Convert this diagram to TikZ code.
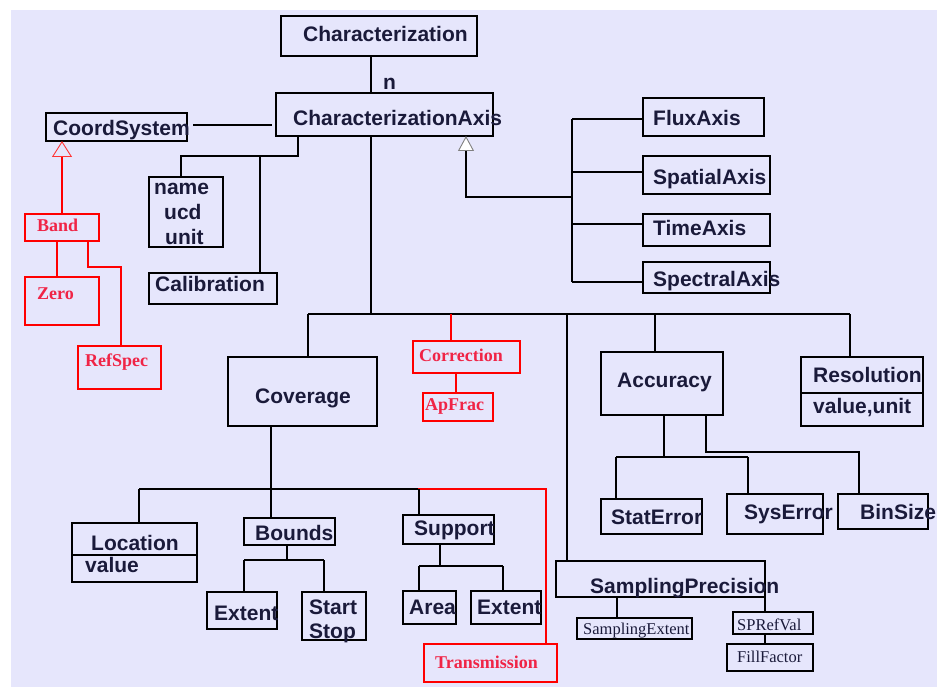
\documentclass[tikz,border=0pt]{standalone}
\usepackage{fontspec}
\setmainfont{Liberation Sans}
\newfontfamily\serifb{Liberation Serif}
\usetikzlibrary{arrows.meta}
\definecolor{lav}{RGB}{230,230,252}
\definecolor{txt}{RGB}{26,26,58}
\definecolor{rtxt}{RGB}{240,36,70}
\definecolor{rline}{RGB}{255,0,0}
\tikzset{
  boxst/.style={draw=black,line width=2.2pt,inner sep=0pt,outer sep=0pt,rectangle},
  redbox/.style={draw=rline,line width=2.2pt,inner sep=0pt,outer sep=0pt,rectangle},
  conn/.style={draw=black,line width=2.2pt},
  rconn/.style={draw=rline,line width=2.2pt},
  lbl/.style={font=\fontsize{21}{24}\selectfont\bfseries,text=txt,inner sep=0pt,anchor=west,text height=15pt,text depth=0pt},
  rlbl/.style={font=\fontsize{18}{20}\serifb\bfseries,text=rtxt,inner sep=0pt,anchor=west,text height=12pt,text depth=0pt},
  slbl/.style={font=\fontsize{16.5}{18}\serifb,text=txt,inner sep=0pt,anchor=west,text height=11pt,text depth=0pt}
}
\newcommand\mkbox[6]{\node[#1,minimum width={(#5-#3)*1pt},minimum height={(#6-#4)*1pt}] (#2) at ({(#3+#5)/2},{(#4+#6)/2}) {};}
\begin{document}
\begin{tikzpicture}[x=1pt,y=-1pt]
\useasboundingbox (0,0) rectangle (937,687);
\fill[lav] (11,10) rectangle (937,687);
% boxes
\mkbox{boxst}{char}{281}{16}{477}{56}
\mkbox{boxst}{ca}{276}{93}{493}{136}
\mkbox{boxst}{cs}{46}{113}{187}{141}
\mkbox{redbox}{band}{25}{214}{99}{241}
\mkbox{redbox}{zero}{25}{277}{99}{325}
\mkbox{redbox}{refspec}{78}{346}{161}{389}
\mkbox{boxst}{nuu}{149}{177}{223}{247}
\mkbox{boxst}{calib}{149}{273}{277}{304}
\mkbox{boxst}{flux}{643}{98}{764}{136}
\mkbox{boxst}{spatial}{643}{156}{770}{194}
\mkbox{boxst}{time}{643}{214}{770}{246}
\mkbox{boxst}{spectral}{643}{262}{770}{293}
\mkbox{boxst}{cov}{228}{357}{377}{426}
\mkbox{redbox}{corr}{413}{341}{520}{373}
\mkbox{redbox}{apfrac}{423}{393}{493}{421}
\mkbox{boxst}{acc}{601}{352}{723}{415}
\mkbox{boxst}{res}{801}{357}{923}{426}
\mkbox{boxst}{stat}{601}{499}{702}{534}
\mkbox{boxst}{sys}{727}{494}{823}{534}
\mkbox{boxst}{bin}{838}{494}{928}{529}
\mkbox{boxst}{loc}{72}{523}{197}{582}
\mkbox{boxst}{bounds}{244}{518}{335}{545}
\mkbox{boxst}{extb}{207}{592}{277}{629}
\mkbox{boxst}{ss}{302}{592}{366}{640}
\mkbox{boxst}{supp}{403}{515}{494}{544}
\mkbox{boxst}{area}{403}{591}{456}{624}
\mkbox{boxst}{exts}{471}{591}{541}{624}
\mkbox{redbox}{trans}{424}{644}{557}{682}
\mkbox{boxst}{sp}{556}{561}{765}{597}
\mkbox{boxst}{se}{577}{618}{692}{639}
\mkbox{boxst}{spref}{733}{612}{813}{634}
\mkbox{boxst}{fill}{727}{644}{813}{671}
% dividers
\draw[conn] (res.west |- 0,393) -- (res.east |- 0,393);
\draw[conn] (loc.west |- 0,555) -- (loc.east |- 0,555);
% texts
\node[lbl] (tchar) at (303,34) {Characterization};
\node[lbl,text height=11pt] (tn) at (383,84) {n};
\node[lbl] (tca) at (293,118) {CharacterizationAxis};
\node[lbl] (tcs) at (53,128) {CoordSystem};
\node[rlbl] (tband) at (37,226) {Band};
\node[rlbl] (tzero) at (37,293) {Zero};
\node[rlbl] (trefspec) at (85,360) {RefSpec};
\node[lbl] (tname) at (154,187) {name};
\node[lbl] (tucd) at (164,212) {ucd};
\node[lbl] (tunit) at (165,237) {unit};
\node[lbl] (tcalib) at (155,284) {Calibration};
\node[lbl] (tflux) at (653,118) {FluxAxis};
\node[lbl] (tspatial) at (653,177) {SpatialAxis};
\node[lbl] (ttime) at (653,228) {TimeAxis};
\node[lbl] (tspectral) at (653,279) {SpectralAxis};
\node[lbl] (tcov) at (255,396) {Coverage};
\node[rlbl] (tcorr) at (419,355) {Correction};
\node[rlbl] (tapfrac) at (425,404) {ApFrac};
\node[lbl] (tacc) at (617,380) {Accuracy};
\node[lbl] (tres) at (813,375) {Resolution};
\node[lbl] (tvu) at (813,406) {value,unit};
\node[lbl] (tstat) at (611,517) {StatError};
\node[lbl] (tsys) at (744,512) {SysError};
\node[lbl] (tbin) at (860,512) {BinSize};
\node[lbl] (tloc) at (91,543) {Location};
\node[lbl] (tval) at (85,565) {value};
\node[lbl] (tbounds) at (255,533) {Bounds};
\node[lbl] (textb) at (214,613) {Extent};
\node[lbl] (tstart) at (309,607) {Start};
\node[lbl] (tstop) at (309,631) {Stop};
\node[lbl] (tsupp) at (414,528) {Support};
\node[lbl] (tarea) at (409,607) {Area};
\node[lbl] (texts) at (477,607) {Extent};
\node[rlbl] (ttrans) at (435,662) {Transmission};
\node[lbl] (tsp) at (590,586) {SamplingPrecision};
\node[slbl] (tse) at (583,629) {SamplingExtent};
\node[slbl] (tspref) at (737,625) {SPRefVal};
\node[slbl] (tfill) at (737,657) {FillFactor};
% junction coordinates
\coordinate (csl) at (193,125);
\coordinate (car) at (272,125);
% connectors
\draw[conn] (371,0 |- char.south) -- (371,0 |- ca.north);
\draw[conn] (csl) -- (car);
\draw[rconn,-{Triangle[open,width=20pt,length=16pt,line width=0.9pt,color=rline!80]}] (62,0 |- band.north) -- (62,0 |- cs.south);
\draw[rconn] (57,0 |- band.south) -- (57,0 |- zero.north);
\draw[rconn] (88,0 |- band.south) -- (88,267) -- (121,267) -- (121,0 |- refspec.north);
\draw[conn] (298,0 |- ca.south) -- (298,156) -- (181,156) -- (181,0 |- nuu.north);
\draw[conn] (260,156) -- (260,0 |- calib.north);
% axis subclasses
\draw[conn] (572,119) -- (572,282);
\draw[conn] (572,119) -- (flux.west |- 0,119);
\draw[conn] (572,172) -- (spatial.west |- 0,172);
\draw[conn] (572,224) -- (time.west |- 0,224);
\draw[conn] (572,282) -- (spectral.west |- 0,282);
\draw[conn,-{Triangle[width=16pt,length=15pt,line width=0.9pt,color=gray,fill=white]}] (572,197) -- (466,197) -- (466,0 |- ca.south);
% main trunk
\draw[conn] (371,0 |- ca.south) -- (371,314);
\draw[conn] (308,314) -- (850,314);
\draw[conn] (308,314) -- (308,0 |- cov.north);
\draw[rconn] (451,314) -- (451,0 |- corr.north);
\draw[conn] (567,314) -- (567,0 |- sp.north);
\draw[conn] (655,314) -- (655,0 |- acc.north);
\draw[conn] (850,314) -- (850,0 |- res.north);
\draw[rconn] (456,0 |- corr.south) -- (456,0 |- apfrac.north);
% coverage
\draw[conn] (271,0 |- cov.south) -- (271,0 |- bounds.north);
\draw[conn] (139,489) -- (418,489);
\draw[rconn] (418,489) -- (546,489) -- (546,0 |- trans.north);
\draw[conn] (139,489) -- (139,0 |- loc.north);
\draw[conn] (419,489) -- (419,0 |- supp.north);
\draw[conn] (287,0 |- bounds.south) -- (287,560);
\draw[conn] (244,560) -- (324,560);
\draw[conn] (244,560) -- (244,0 |- extb.north);
\draw[conn] (324,560) -- (324,0 |- ss.north);
\draw[conn] (440,0 |- supp.south) -- (440,566);
\draw[conn] (419,566) -- (503,566);
\draw[conn] (419,566) -- (419,0 |- area.north);
\draw[conn] (503,566) -- (503,0 |- exts.north);
% accuracy
\draw[conn] (664,0 |- acc.south) -- (664,457);
\draw[conn] (616,457) -- (748,457);
\draw[conn] (616,457) -- (616,0 |- stat.north);
\draw[conn] (748,457) -- (748,0 |- sys.north);
\draw[conn] (706,0 |- acc.south) -- (706,452) -- (859,452) -- (859,0 |- bin.north);
% sampling precision
\draw[conn] (617,0 |- sp.south) -- (617,0 |- se.north);
\draw[conn] (sp.south east) -- (765,0 |- spref.north);
\draw[conn] (765,0 |- spref.south) -- (765,0 |- fill.north);
\end{tikzpicture}
\end{document}
